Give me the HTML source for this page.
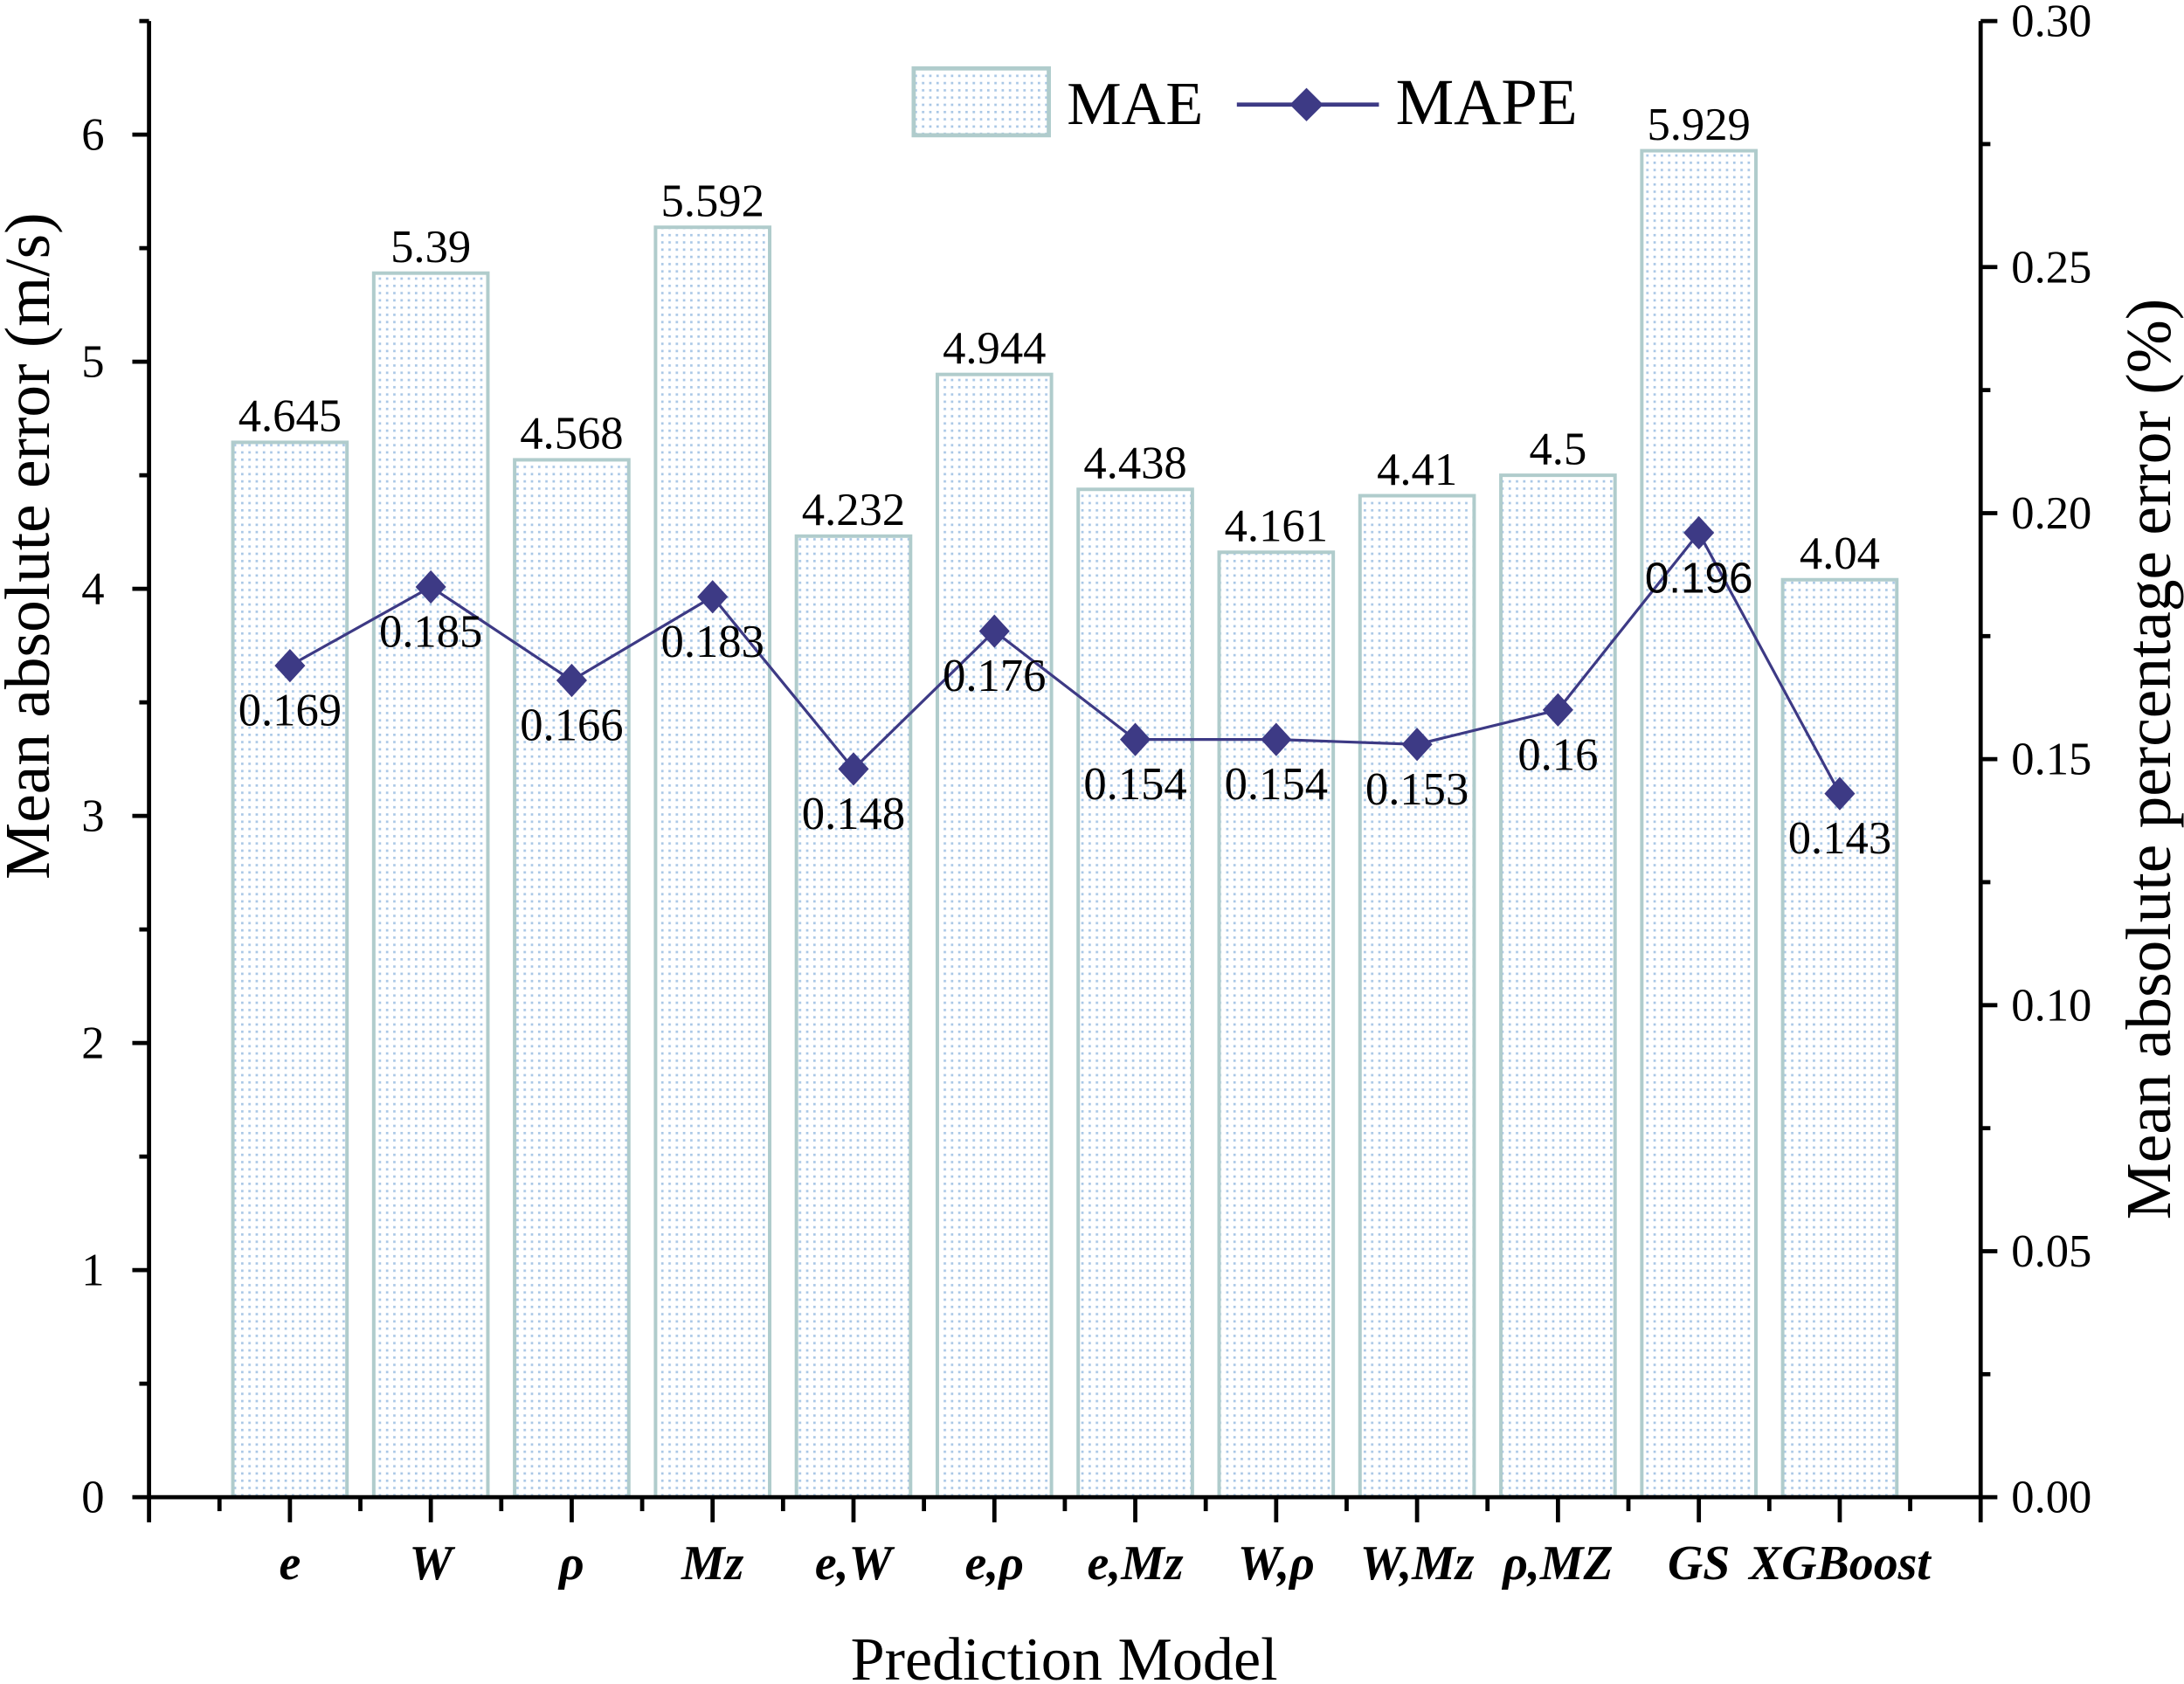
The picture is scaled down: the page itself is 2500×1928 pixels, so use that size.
<!DOCTYPE html>
<html><head><meta charset="utf-8"><style>
html,body{margin:0;padding:0;background:#fff}
svg{display:block}
svg text{font-family:"Liberation Serif","Times New Roman",serif;fill:#000}
</style></head><body>
<svg id="chart" width="2500" height="1928" viewBox="0 0 1568 1209" xmlns="http://www.w3.org/2000/svg" font-family="Liberation Serif, serif">
<defs>
<pattern id="dots" width="5.2" height="5.2" patternUnits="userSpaceOnUse">
<rect width="5.2" height="5.2" fill="#fff"/>
<rect x="1.5" y="1.5" width="1.7" height="1.7" fill="#a9c7e6"/>
</pattern>
</defs>
<g id="bars"></g>
<g id="line"></g>
<g id="axes"></g>
<g>
<rect x="656" y="49" width="97" height="48" fill="url(#dots)" stroke="#b0cccc" stroke-width="3"/>
<text x="766" y="89" font-size="44">MAE</text>
<line x1="888" y1="75" x2="990" y2="75" stroke="#3d3a85" stroke-width="3"/>
<polygon points="938,63 950,75 938,87 926,75" fill="#3d3a85"/>
<text x="1002" y="89" font-size="47">MAPE</text>
</g>
<text transform="translate(35,392) rotate(-90)" text-anchor="middle" font-size="46">Mean absolute error (m/s)</text>
<text transform="translate(1558,545) rotate(-90)" text-anchor="middle" font-size="46">Mean absolute percentage error (%)</text>
<text x="764" y="1206" text-anchor="middle" font-size="44">Prediction Model</text>
</svg>
<script>
const categories=["e","W","ρ","Mz","e,W","e,ρ","e,Mz","W,ρ","W,Mz","ρ,MZ","GS","XGBoost"];
const maeValues=[4.645,5.39,4.568,5.592,4.232,4.944,4.438,4.161,4.41,4.5,5.929,4.04];
const mapeValues=[0.169,0.185,0.166,0.183,0.148,0.176,0.154,0.154,0.153,0.16,0.196,0.143];
const maeLabels=["4.645","5.39","4.568","5.592","4.232","4.944","4.438","4.161","4.41","4.5","5.929","4.04"];
const mapeLabels=["0.169","0.185","0.166","0.183","0.148","0.176","0.154","0.154","0.153","0.16","0.196","0.143"];
const leftTicks=[0,1,2,3,4,5,6];
const rightTicks=["0.00","0.05","0.10","0.15","0.20","0.25","0.30"];

const NS="http://www.w3.org/2000/svg";
const X0=107,X1=1422,YB=1075,YT=15;
const xs=i=>X0+(i+1)*(X1-X0)/13;
const yl=v=>YB-v*(YB-YT)/6.5;
const yr=v=>YB-v*(YB-YT)/0.30;
function mk(tag,attrs,parent,txt){const e=document.createElementNS(NS,tag);for(const k in attrs)e.setAttribute(k,attrs[k]);if(txt!==undefined)e.textContent=txt;parent.appendChild(e);return e;}
const bars=document.getElementById('bars'),line=document.getElementById('line'),axes=document.getElementById('axes');
const bw=0.81*(X1-X0)/13;
categories.forEach((c,i)=>{
  const r=mk('rect',{x:xs(i)-bw/2,y:yl(maeValues[i]),width:bw,height:YB-yl(maeValues[i]),fill:'url(#dots)',stroke:'#b0cccc','stroke-width':2.5},bars);
  
  
  const t=mk('text',{x:xs(i),y:yl(maeValues[i])-8,'text-anchor':'middle','font-size':33},bars,maeLabels[i]);
  
  
});
const pts=mapeValues.map((v,i)=>xs(i)+','+yr(v)).join(' ');
mk('polyline',{points:pts,fill:'none',stroke:'#3d3a85','stroke-width':2},line);
mapeValues.forEach((v,i)=>{
  const x=xs(i),y=yr(v);
  const p=mk('polygon',{points:`${x},${y-12} ${x+11},${y} ${x},${y+12} ${x-11},${y}`,fill:'#3d3a85'},line);
  
  
  const isGS=categories[i]==="GS";
  const t=mk('text',{x:x,y:y+43,'text-anchor':'middle','font-size':isGS?31:33},line,mapeLabels[i]);
  if(isGS){t.setAttribute('font-family','Liberation Sans, sans-serif');t.setAttribute('style','font-family:"Liberation Sans",sans-serif');}
  
  
});
mk('line',{x1:X0,y1:YT,x2:X0,y2:YB+1.5,stroke:'#000','stroke-width':3},axes);
mk('line',{x1:X1,y1:YT,x2:X1,y2:YB+1.5,stroke:'#000','stroke-width':3},axes);
mk('line',{x1:X0-1.5,y1:YB,x2:X1+1.5,y2:YB,stroke:'#000','stroke-width':3},axes);
leftTicks.forEach(v=>{
  mk('line',{x1:X0-12,y1:yl(v),x2:X0,y2:yl(v),stroke:'#000','stroke-width':3},axes);
  const t=mk('text',{x:X0-32,y:yl(v)+11,'text-anchor':'end','font-size':33},axes,String(v));
  
  
  mk('line',{x1:X0-7,y1:yl(v+0.5),x2:X0,y2:yl(v+0.5),stroke:'#000','stroke-width':3},axes);
});
rightTicks.forEach((s,i)=>{
  const v=parseFloat(s);
  mk('line',{x1:X1,y1:yr(v),x2:X1+12,y2:yr(v),stroke:'#000','stroke-width':3},axes);
  const t=mk('text',{x:X1+22,y:yr(v)+11,'font-size':33},axes,s);
  
  
  if(i<rightTicks.length-1)mk('line',{x1:X1,y1:yr(v+0.025),x2:X1+7,y2:yr(v+0.025),stroke:'#000','stroke-width':3},axes);
});
for(let k=0;k<=26;k++){
  const x=X0+k*(X1-X0)/26;
  const major=k%2===0;
  mk('line',{x1:x,y1:YB,x2:x,y2:YB+(major?18:10),stroke:'#000','stroke-width':3},axes);
}
categories.forEach((c,i)=>{
  const t=mk('text',{x:xs(i),y:1134,'text-anchor':'middle','font-size':35,'font-weight':'bold','font-style':'italic'},axes,c);
  
  
});
</script>
</body></html>
